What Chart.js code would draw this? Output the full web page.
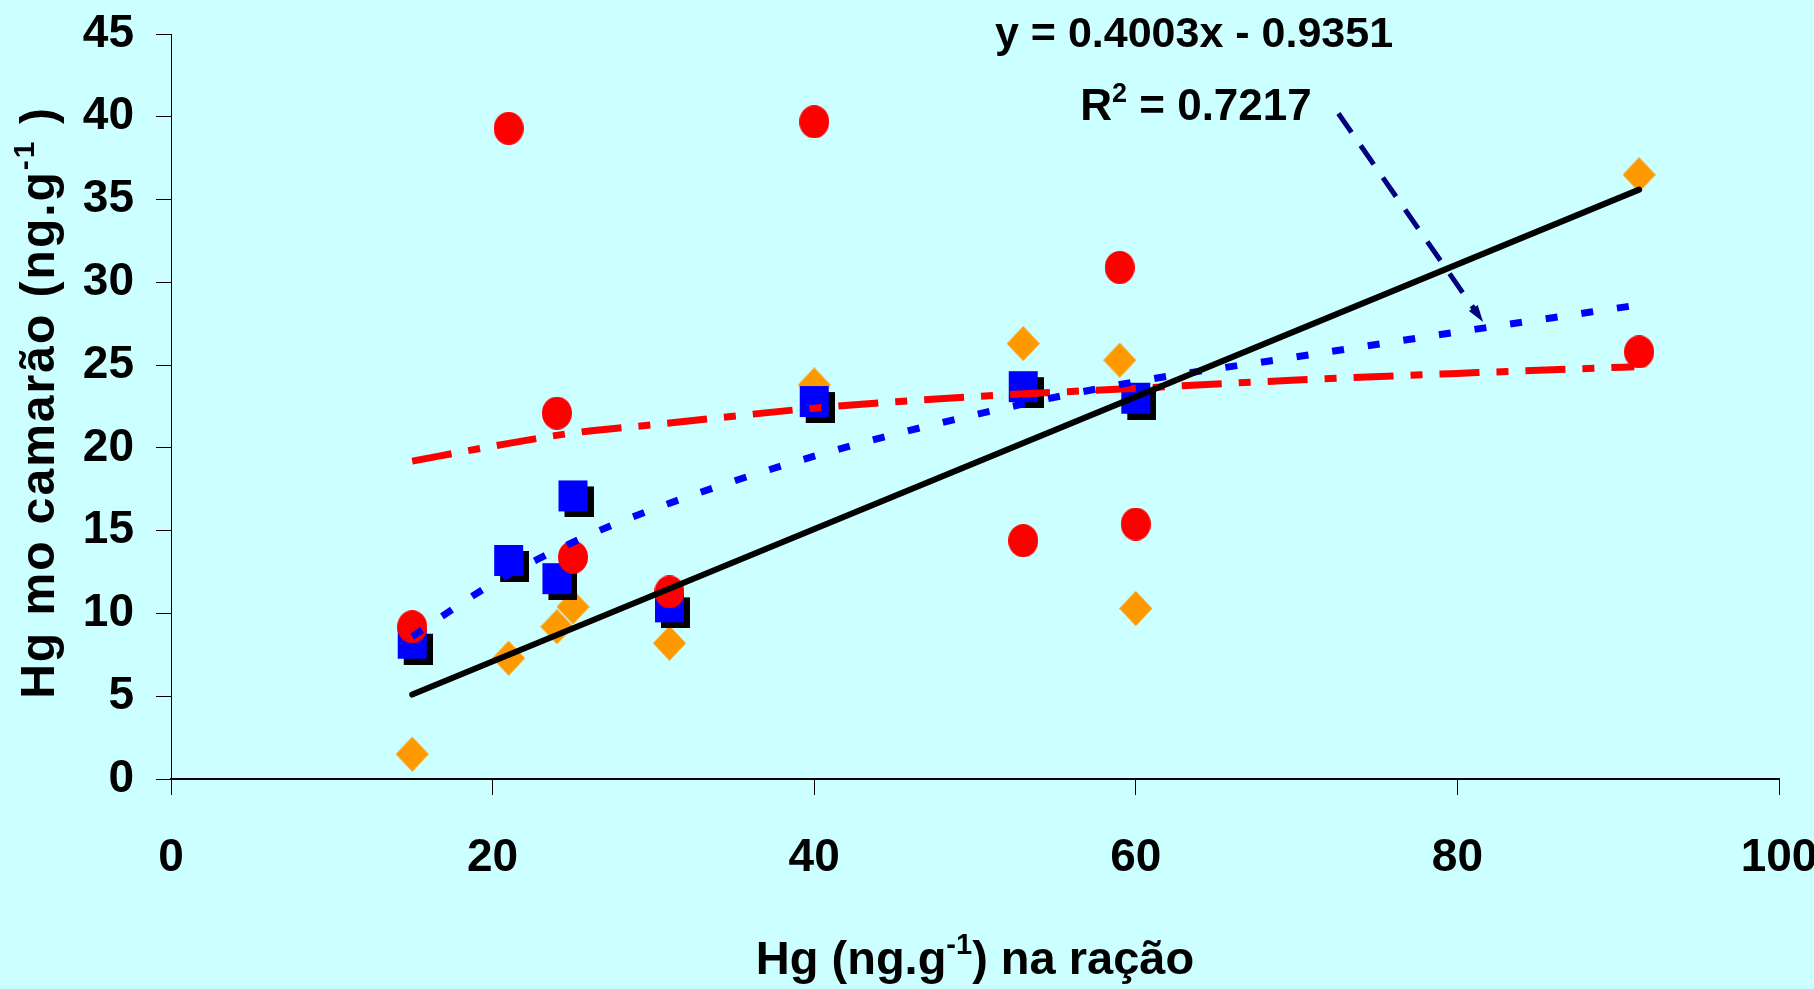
<!DOCTYPE html>
<html>
<head>
<meta charset="utf-8">
<script src="https://cdn.jsdelivr.net/npm/chart.js@4"></script>
<style>
  html, body { margin: 0; padding: 0; background: #CCFFFF; overflow: hidden; }
  canvas { display: block; }
</style>
</head>
<body>
<canvas id="grafico" width="1814" height="989"></canvas>
<script>
// dados
var racaoX      = [15, 21, 24, 25, 31, 40, 53, 59, 60, 91.3];
var circulos    = [9.2, 39.3, 22.1, 13.4, 11.3, 39.7, 14.4, 30.9, 15.4, 25.8];
var losangos    = [1.5, 7.3, 9.2, 10.4, 8.2, 23.8, 26.3, 25.3, 10.3, 36.5];
var quadX       = [15, 21, 24, 25, 31, 40, 53, 60];
var quadrados   = [8.2, 13.2, 12.1, 17.1, 10.4, 22.8, 23.7, 23.0];

// linhas de tendência
var curvaX        = [15, 20, 25, 30, 40, 50, 60, 70, 80, 91];
var curvaVermelha = [19.2, 20.1, 20.9, 21.4, 22.4, 23.1, 23.6, 24.1, 24.5, 24.9];
var curvaAzul     = [8.6, 11.8, 14.3, 16.3, 19.5, 22.0, 24.0, 25.5, 27.0, 28.6];
var retaX = [15, 91.3];
var retaY = [5.1, 35.6];

// seta da equação (em unidades dos eixos)
var setaX = [72.6, 81.6];
var setaY = [40.2, 27.6];

var xTicks = [0, 20, 40, 60, 80, 100];
var yTicks = [0, 5, 10, 15, 20, 25, 30, 35, 40, 45];

function pares(xs, ys) {
  return xs.map(function (x, i) { return { x: x, y: ys[i] }; });
}

// marcadores desenhados em canvas
function marcador(tipo) {
  var c = document.createElement('canvas');
  var g;
  if (tipo === 'circulo') {
    c.width = 30; c.height = 33;
    g = c.getContext('2d');
    g.fillStyle = '#FF0000';
    g.beginPath();
    g.ellipse(15, 16.5, 15, 16.5, 0, 0, Math.PI * 2);
    g.fill();
  } else if (tipo === 'losango') {
    c.width = 33; c.height = 35;
    g = c.getContext('2d');
    g.fillStyle = '#FF9900';
    g.beginPath();
    g.moveTo(16.5, 0); g.lineTo(33, 17.5); g.lineTo(16.5, 35); g.lineTo(0, 17.5);
    g.closePath();
    g.fill();
  } else {
    c.width = 41; c.height = 43;
    g = c.getContext('2d');
    g.fillStyle = '#000000';
    g.fillRect(12, 12, 29, 31);
    g.fillStyle = '#0000FF';
    g.fillRect(6, 6, 29, 31);
  }
  return c;
}

var FONTE = '"Liberation Sans", Arial, sans-serif';

function textoRico(ctx, partes, x, y, tam, esp) {
  var supTam = Math.round(tam * 0.62);
  var total = 0;
  ctx.letterSpacing = (esp || 0) + 'px';
  partes.forEach(function (p) {
    ctx.font = 'bold ' + (p.sup ? supTam : tam) + 'px ' + FONTE;
    p.w = ctx.measureText(p.t).width;
    total += p.w;
  });
  var cx = x - total / 2;
  ctx.textAlign = 'left';
  ctx.textBaseline = 'alphabetic';
  ctx.fillStyle = '#000';
  partes.forEach(function (p) {
    ctx.font = 'bold ' + (p.sup ? supTam : tam) + 'px ' + FONTE;
    ctx.fillText(p.t, cx, p.sup ? y - tam * 0.42 : y);
    cx += p.w;
  });
  ctx.letterSpacing = '0px';
}

var fundo = {
  id: 'fundo',
  beforeDraw: function (chart) {
    var ctx = chart.ctx;
    ctx.save();
    ctx.fillStyle = '#CCFFFF';
    ctx.fillRect(0, 0, chart.width, chart.height);
    ctx.restore();
  }
};

var textos = {
  id: 'textos',
  afterDraw: function (chart) {
    var ctx = chart.ctx;
    var xs = chart.scales.x, ys = chart.scales.y;
    var ca = chart.chartArea;

    // seta tracejada
    var x1 = xs.getPixelForValue(setaX[0]), y1 = ys.getPixelForValue(setaY[0]);
    var x2 = xs.getPixelForValue(setaX[1]), y2 = ys.getPixelForValue(setaY[1]);
    var ang = Math.atan2(y2 - y1, x2 - x1);
    ctx.save();
    ctx.strokeStyle = '#000080';
    ctx.fillStyle = '#000080';
    ctx.lineWidth = 5;
    ctx.setLineDash([23, 16]);
    ctx.beginPath();
    ctx.moveTo(x1, y1);
    ctx.lineTo(x2 - 12 * Math.cos(ang), y2 - 12 * Math.sin(ang));
    ctx.stroke();
    ctx.setLineDash([]);
    ctx.beginPath();
    ctx.moveTo(x2, y2);
    ctx.lineTo(x2 - 18 * Math.cos(ang - 0.3), y2 - 18 * Math.sin(ang - 0.3));
    ctx.lineTo(x2 - 18 * Math.cos(ang + 0.3), y2 - 18 * Math.sin(ang + 0.3));
    ctx.closePath();
    ctx.fill();
    ctx.restore();

    ctx.save();
    // equação
    textoRico(ctx, [{ t: 'y = 0.4003x - 0.9351' }], 1194, 47, 43);
    textoRico(ctx, [{ t: 'R' }, { t: '2', sup: true }, { t: ' = 0.7217' }], 1196, 120, 44);

    // título eixo x
    textoRico(ctx, [{ t: 'Hg (ng.g' }, { t: '-1', sup: true }, { t: ') na ração' }],
      (ca.left + ca.right) / 2, 974, 47);

    // título eixo y
    ctx.translate(54, (ca.top + ca.bottom) / 2 - 4);
    ctx.rotate(-Math.PI / 2);
    textoRico(ctx, [{ t: 'Hg mo camarão (ng.g' }, { t: '-1', sup: true }, { t: ' )' }], 0, 0, 48, 2);
    ctx.restore();
  }
};

// sem folga automática das escalas: a área do gráfico fica onde está no original
function semFolga(scale) {
  scale.paddingLeft = 0;
  scale.paddingRight = 0;
  scale.paddingTop = 0;
  scale.paddingBottom = 0;
}

var ctx = document.getElementById('grafico').getContext('2d');
var grafico = new Chart(ctx, {
  type: 'scatter',
  data: {
    datasets: [
      {
        label: 'linear',
        data: pares(retaX, retaY),
        showLine: true,
        borderColor: '#000000',
        borderWidth: 6,
        borderCapStyle: 'round',
        pointRadius: 0,
        order: 0
      },
      {
        label: 'tendência azul',
        data: pares(curvaX, curvaAzul),
        showLine: true,
        borderColor: '#0000FF',
        borderWidth: 7,
        borderDash: [12, 24],
        cubicInterpolationMode: 'monotone',
        pointRadius: 0,
        order: 1
      },
      {
        label: 'tendência vermelha',
        data: pares(curvaX, curvaVermelha),
        showLine: true,
        borderColor: '#FF0000',
        borderWidth: 7,
        borderDash: [40, 17, 12, 17],
        cubicInterpolationMode: 'monotone',
        pointRadius: 0,
        order: 2
      },
      {
        label: 'círculos',
        data: pares(racaoX, circulos),
        pointStyle: marcador('circulo'),
        order: 3
      },
      {
        label: 'quadrados',
        data: pares(quadX, quadrados),
        pointStyle: marcador('quadrado'),
        order: 4
      },
      {
        label: 'losangos',
        data: pares(racaoX, losangos),
        pointStyle: marcador('losango'),
        order: 5
      }
    ]
  },
  options: {
    responsive: false,
    animation: false,
    devicePixelRatio: 1,
    layout: {
      autoPadding: false,
      padding: { left: 0, right: 35, top: 34, bottom: 0 }
    },
    plugins: {
      legend: { display: false },
      tooltip: { enabled: false }
    },
    scales: {
      x: {
        type: 'linear',
        min: 0,
        max: 100,
        afterFit: function (scale) { scale.height = 210; semFolga(scale); },
        afterBuildTicks: function (scale) {
          scale.ticks = xTicks.map(function (v) { return { value: v }; });
        },
        border: { display: true, color: '#000', width: 2 },
        grid: { drawOnChartArea: false, drawTicks: true, tickLength: 16, color: '#000', lineWidth: 1 },
        ticks: {
          padding: 36,
          color: '#000',
          font: { family: FONTE, size: 46, weight: 'bold' }
        }
      },
      y: {
        type: 'linear',
        min: 0,
        max: 45,
        afterFit: function (scale) { scale.width = 171; semFolga(scale); },
        afterBuildTicks: function (scale) {
          scale.ticks = yTicks.map(function (v) { return { value: v }; });
        },
        border: { display: true, color: '#000', width: 1 },
        grid: { drawOnChartArea: false, drawTicks: true, tickLength: 15, color: '#000', lineWidth: 1 },
        ticks: {
          padding: 22,
          color: '#000',
          font: { family: FONTE, size: 46, weight: 'bold' }
        }
      }
    }
  },
  plugins: [fundo, textos]
});
</script>
</body>
</html>
